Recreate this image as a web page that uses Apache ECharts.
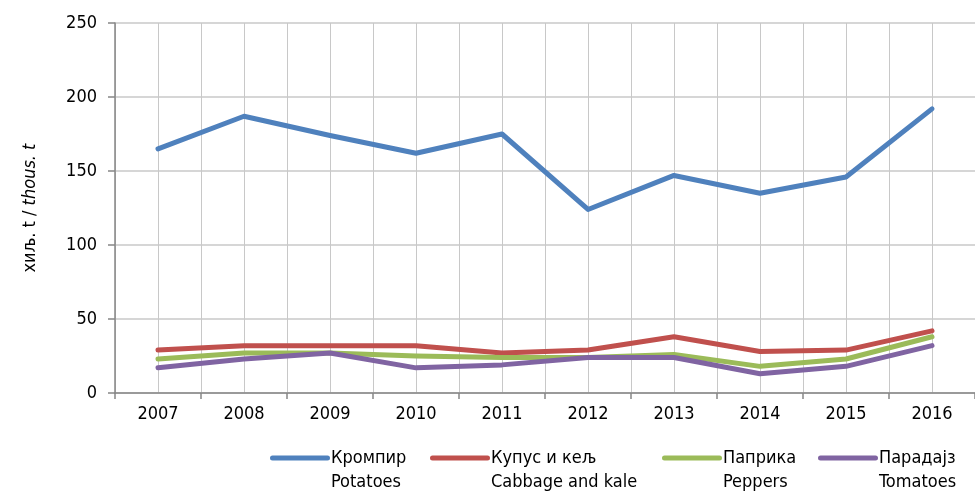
<!DOCTYPE html>
<html>
<head>
<meta charset="utf-8">
<script src="https://cdn.jsdelivr.net/npm/echarts@6/dist/echarts.min.js"></script>
<style>
  html, body { margin: 0; padding: 0; background: #fff; }
  #chart { width: 975px; height: 492px; }
</style>
</head>
<body>
<div id="chart"></div>
<script>
const FONT = "'DejaVu Sans Condensed', 'Liberation Sans Narrow', 'Liberation Sans', sans-serif";

const years    = ['2007', '2008', '2009', '2010', '2011', '2012', '2013', '2014', '2015', '2016'];
const potatoes = [165, 187, 174, 162, 175, 124, 147, 135, 146, 192];
const cabbage  = [29, 32, 32, 32, 27, 29, 38, 28, 29, 42];
const peppers  = [23, 27, 27, 25, 24, 24, 26, 18, 23, 38];
const tomatoes = [17, 23, 27, 17, 19, 24, 24, 13, 18, 32];

const names  = ['Кромпир\nPotatoes', 'Купус и кељ\nCabbage and kale', 'Паприка\nPeppers', 'Парадајз\nTomatoes'];
const colors = ['#4F81BD', '#C0504D', '#9BBB59', '#8064A2'];
const legendLeft = [270, 430, 662, 818];

const chart = echarts.init(document.getElementById('chart'));

const mkLine = (name, data, color) => ({
    name, data, type: 'line', xAxisIndex: 0,
    symbol: 'none', color,
    lineStyle: { width: 5, color, cap: 'round', join: 'round' }
});

// one legend per item so each sits where it does in the picture
const legends = names.map((n, i) => ({
    left: legendLeft[i], top: 446, padding: 0,
    itemWidth: 60, itemHeight: 29,
    icon: 'path://M2.5,0L57.5,0A2.5,2.5,0,0,1,57.5,5L2.5,5A2.5,2.5,0,0,1,2.5,0Z M0,29L0.01,29',
    textStyle: { fontFamily: FONT, fontSize: 18, color: '#000', lineHeight: 24, padding: [0, 0, 0, -4] },
    data: [n]
}));

chart.setOption({
    backgroundColor: '#fff',
    animation: false,
    textStyle: { fontFamily: FONT, color: '#000' },
    grid: { left: 115, top: 23, width: 866, height: 370 },
    legend: legends,
    xAxis: [{
        type: 'category', data: years, boundaryGap: true,
        axisLine: { lineStyle: { color: '#868686', width: 1.5 } },
        axisTick: { show: true, length: 6, lineStyle: { color: '#868686', width: 1.5 } },
        axisLabel: { fontFamily: FONT, fontSize: 18, color: '#000', margin: 12 },
        splitLine: { show: false }
    }, {
        type: 'value', min: 0, max: 20, interval: 1, position: 'bottom',
        axisLine: { show: false }, axisTick: { show: false }, axisLabel: { show: false },
        splitLine: { show: true, lineStyle: { color: '#C8C8C8', width: 1 } }
    }],
    yAxis: {
        type: 'value', min: 0, max: 250, interval: 50,
        name: '{a|хиљ. t / }{b|thous. t}', nameLocation: 'middle', nameGap: 76, nameRotate: 90,
        nameTextStyle: {
            rich: {
                a: { fontFamily: FONT, fontSize: 18, color: '#000' },
                b: { fontFamily: FONT, fontSize: 18, color: '#000', fontStyle: 'italic' }
            }
        },
        axisLine: { show: true, lineStyle: { color: '#868686', width: 1.5 } },
        axisTick: { show: true, length: 7, lineStyle: { color: '#868686', width: 1.5 } },
        axisLabel: { fontFamily: FONT, fontSize: 18, color: '#000', margin: 18 },
        splitLine: { show: true, lineStyle: { color: '#C8C8C8', width: 1.5 } }
    },
    series: [
        mkLine(names[0], potatoes, colors[0]),
        mkLine(names[1], cabbage, colors[1]),
        mkLine(names[2], peppers, colors[2]),
        mkLine(names[3], tomatoes, colors[3])
    ]
});

window.addEventListener('resize', () => chart.resize());
</script>
</body>
</html>
